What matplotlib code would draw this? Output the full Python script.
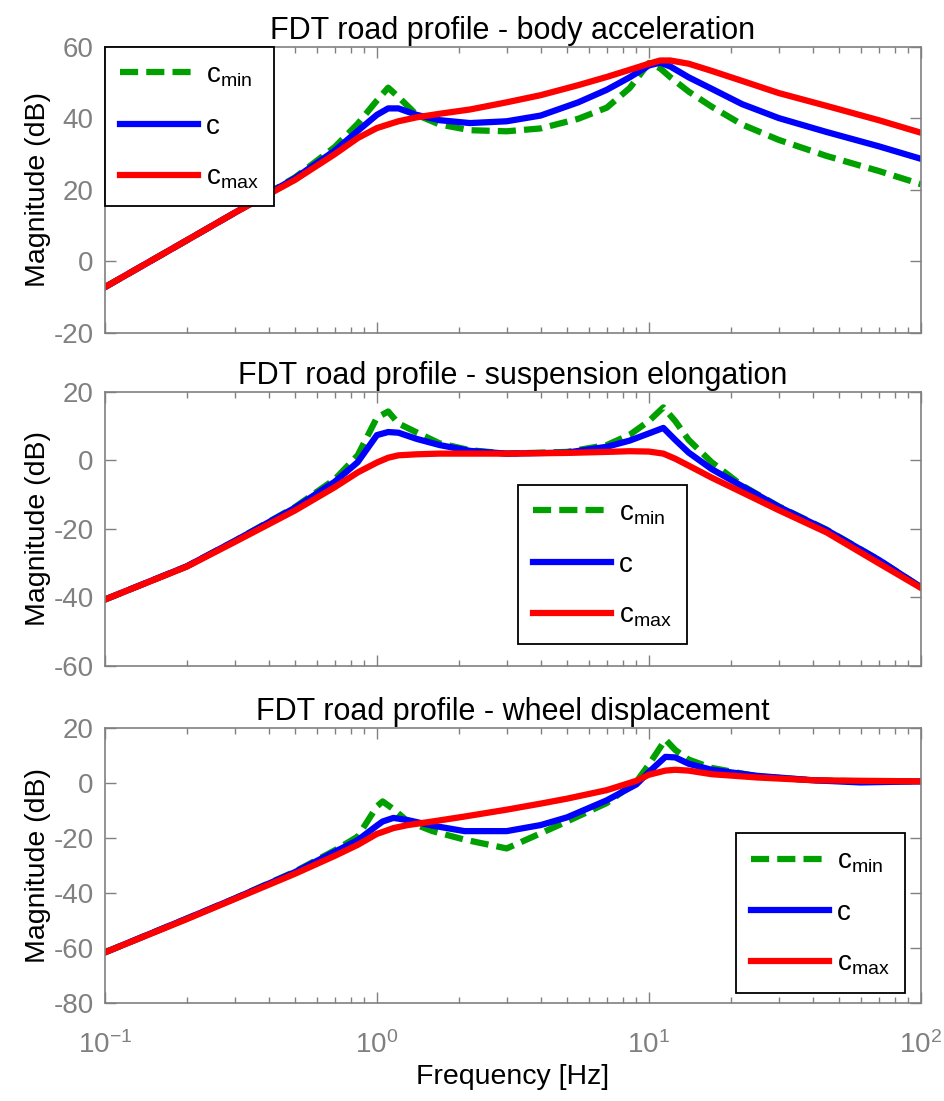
#!/usr/bin/env python3
"""FDT road profile: body acceleration / suspension elongation / wheel displacement
for three damping settings (c_min, c, c_max)."""
import matplotlib
matplotlib.use("Agg")
import matplotlib.pyplot as plt

plt.rcParams['font.family'] = ['Liberation Sans', 'DejaVu Sans']
plt.rcParams['mathtext.fontset'] = 'custom'
plt.rcParams['mathtext.rm'] = 'Liberation Sans'
plt.rcParams['mathtext.it'] = 'Liberation Sans'
plt.rcParams['mathtext.bf'] = 'Liberation Sans:bold'
plt.rcParams['axes.unicode_minus'] = False

# --- body acceleration (dB) ---
freq_body = [0.1, 0.2, 0.3, 0.5, 0.7, 0.85, 1.0, 1.1, 1.2, 1.4, 1.7, 2.2, 3, 4,
             5.5, 7, 8.5, 10, 11, 12, 14, 17, 22, 30, 45, 70, 100]
body_cmin = [-7.2, 5.9, 13.6, 23.5, 32, 38.5, 45, 48.6, 46, 41, 38.3, 36.7, 36.4, 37.2,
             39.9, 43, 48.5, 55.5, 54, 51.5, 47.5, 43.3, 38.3, 34, 29.5, 25.3, 21.6]
body_c = [-7.2, 5.9, 13.6, 23.3, 31, 36.5, 41, 42.8, 42.8, 41, 39.5, 38.7, 39.2, 40.8,
          44.5, 48, 51.5, 54.8, 55.6, 54.5, 51.5, 48.3, 44, 40.1, 36.2, 32.2, 28.7]
body_cmax = [-7.2, 5.9, 13.6, 22.8, 30, 34.5, 37.3, 38.3, 39.2, 40.3, 41.3, 42.5, 44.5, 46.5,
             49.3, 51.6, 53.6, 55.3, 56.2, 56.2, 55.3, 53.3, 50.5, 47.1, 43.5, 39.5, 36]

# --- suspension elongation (dB) ---
freq_susp = [0.1, 0.2, 0.3, 0.5, 0.7, 0.85, 1.0, 1.1, 1.2, 1.4, 1.7, 2.2, 3, 5,
             7, 8.5, 10, 11.3, 12.5, 14, 17, 22, 30, 45, 70, 100]
susp_cmin = [-40.6, -30.9, -23.5, -13.6, -5.5, 1.5, 12.5, 14.3, 10.8, 8.2, 5, 3, 2.0, 2.5,
             4.5, 7.5, 11.5, 15.5, 11.5, 6, -0.5, -7.3, -13.4, -20.2, -29, -37]
susp_c = [-40.6, -30.9, -23.5, -13.8, -6.2, -0.5, 7.4, 8.3, 8.1, 6.3, 4.5, 2.8, 2.0, 2.3,
          4.0, 5.8, 7.9, 9.5, 6, 2.3, -2.5, -7.5, -13.5, -20.3, -29, -37]
susp_cmax = [-40.6, -31, -23.8, -14.6, -7.8, -3.5, -0.6, 0.8, 1.5, 1.8, 2, 2, 2, 2.2,
             2.5, 2.7, 2.6, 2.0, 0.5, -1.5, -5, -9.3, -14.5, -21, -30, -37.2]

# --- wheel displacement (dB) ---
freq_wheel = [0.1, 0.2, 0.3, 0.5, 0.7, 0.85, 1.0, 1.05, 1.15, 1.3, 1.6, 2.1, 3, 4,
              5, 7, 9, 10, 11.5, 12.5, 14, 17, 25, 40, 60, 100]
wheel_cmin = [-61.6, -49.3, -42, -32.2, -24.5, -19.5, -8.5, -6.7, -9.5, -14, -17.5, -20.6,
              -23.8, -18.3, -14, -7.3, 0.5, 6.7, 15.8, 12, 8.5, 5.5, 2.4, 1.0, 0.6, 0.6]
wheel_c = [-61.6, -49.3, -42, -32.4, -25, -20.8, -15.5, -14, -12.7, -13.5, -15.5, -17.5,
           -17.5, -15.3, -12.5, -6.3, -0.5, 4.0, 9.5, 9.3, 7, 4.8, 2.6, 1.0, 0.2, 0.6]
wheel_cmax = [-61.6, -49.5, -42.2, -33, -26.5, -22.5, -18.5, -17.8, -16.4, -15.3, -14, -12.2,
              -9.7, -7.5, -5.7, -2.6, 0.8, 3.0, 4.5, 4.8, 4.5, 3.2, 2, 1.0, 0.8, 0.6]

titles = ["FDT road profile - body acceleration",
          "FDT road profile - suspension elongation",
          "FDT road profile - wheel displacement"]
legend_labels = [r"c$_{\mathrm{min}}$", "c", r"c$_{\mathrm{max}}$"]

GREEN, BLUE, RED = "#00a000", "#0000ff", "#ff0000"
GRAY = "#808080"
LW = 4.5


def draw_panel(ax, freq, cmin, c, cmax, title, ylim, yticks, anchor):
    ax.semilogx(freq, cmin, color=GREEN, lw=LW, dashes=(2.9, 1.3),
                dash_capstyle="butt", label=legend_labels[0])
    ax.semilogx(freq, c, color=BLUE, lw=LW, label=legend_labels[1])
    ax.semilogx(freq, cmax, color=RED, lw=LW, label=legend_labels[2])
    ax.set_xlim(0.1, 100)
    ax.set_ylim(*ylim)
    ax.set_yticks(yticks)
    ax.set_title(title, fontsize=22, pad=6)
    ax.set_ylabel("Magnitude (dB)", fontsize=20.5, labelpad=2)
    ax.tick_params(which="both", direction="in", top=True, right=True,
                   color=GRAY, labelcolor=GRAY, labelsize=20, pad=8)
    ax.tick_params(axis="x", which="both", pad=20)
    ax.tick_params(which="major", length=8, width=1)
    ax.tick_params(which="minor", length=4.5, width=1)
    for s in ax.spines.values():
        s.set_color(GRAY)
        s.set_linewidth(1.2)
    leg = ax.legend(loc="upper left", bbox_to_anchor=anchor, borderaxespad=0,
                    fontsize=20, handlelength=2.8, handletextpad=0.3,
                    labelspacing=0.9, borderpad=0.55, fancybox=False,
                    framealpha=1, edgecolor="black")
    leg.get_frame().set_linewidth(1.3)
    return ax


fig = plt.figure(figsize=(9.45, 11.01), dpi=100)
ax1 = fig.add_axes([0.111, 0.6976, 0.8635, 0.2598])
ax2 = fig.add_axes([0.111, 0.3951, 0.8635, 0.2489])
ax3 = fig.add_axes([0.111, 0.0890, 0.8635, 0.2498])

draw_panel(ax1, freq_body, body_cmin, body_c, body_cmax, titles[0],
           (-20, 60), [-20, 0, 20, 40, 60], (0.0, 1.0))
draw_panel(ax2, freq_susp, susp_cmin, susp_c, susp_cmax, titles[1],
           (-60, 20), [-60, -40, -20, 0, 20], (0.506, 0.661))
draw_panel(ax3, freq_wheel, wheel_cmin, wheel_c, wheel_cmax, titles[2],
           (-80, 20), [-80, -60, -40, -20, 0, 20], (0.773, 0.618))

ax1.tick_params(labelbottom=False)
ax2.tick_params(labelbottom=False)
ax3.set_xlabel("Frequency [Hz]", fontsize=20.5, labelpad=4)

fig.savefig("out.png", dpi=100)
